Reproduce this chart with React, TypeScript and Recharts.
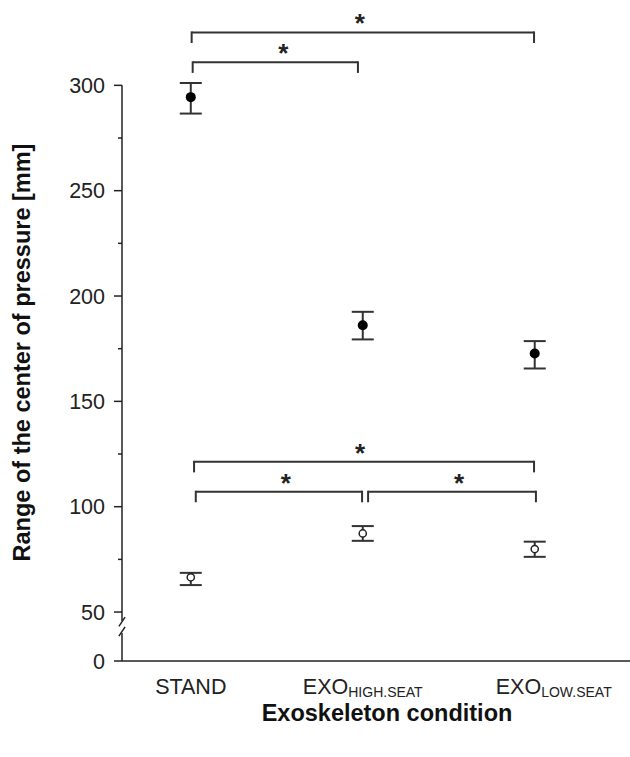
import {
  ComposedChart, Scatter, XAxis, YAxis, ErrorBar, ReferenceLine, Label,
} from 'recharts';

// conditions on the x axis
const CONDITIONS = ['STAND', 'EXO', 'EXO'];
const CONDITION_SUB = ['', 'HIGH.SEAT', 'LOW.SEAT'];
const X_POS = [1, 2, 3];

// filled markers (upper group)
const FILLED_MEAN = [294.4, 186.1, 172.7];
const FILLED_LOW = [286.6, 179.4, 165.6];
const FILLED_HIGH = [301.1, 192.5, 178.6];

// open markers (lower group)
const OPEN_MEAN = [66.5, 87.3, 79.9];
const OPEN_LOW = [62.8, 83.8, 76.2];
const OPEN_HIGH = [68.6, 90.8, 83.4];

const Y_TICKS = [0, 50, 100, 150, 200, 250, 300];
const Y_MINOR = [75, 125, 175, 225, 275];

// significance brackets
const BRACKET_FROM = [1.005, 1.011, 1.019, 1.029, 2.031];
const BRACKET_TO = [2.996, 1.972, 2.996, 1.996, 3.007];
const BRACKET_Y = [325.1, 310.9, 121.3, 107.1, 107.1];
const BRACKET_LEG = 5;

// axis break: 0..50 squeezed
const BREAK = 23.24;
const toT = (v: number) => (v >= 50 ? v - 50 + BREAK : (v * BREAK) / 50);
const fromT = (t: number) => (t >= BREAK ? Math.round(t + 50 - BREAK) : Math.round((t * 50) / BREAK));

const X_MIN = 0.6;
const X_MAX = 3.554;
const LABEL_DX = [0, 0, 19];
const STAR_DX = [-3, 8, -4, 7, 7];
const FONT = '"Liberation Sans", Arial, sans-serif';
const INK = '#333';

const makeRows = (mean: number[], low: number[], high: number[]) =>
  X_POS.map((x, i) => ({
    x,
    y: toT(mean[i]),
    err: [mean[i] - low[i], high[i] - mean[i]],
  }));

const filledRows = makeRows(FILLED_MEAN, FILLED_LOW, FILLED_HIGH);
const openRows = makeRows(OPEN_MEAN, OPEN_LOW, OPEN_HIGH);

const YTick = (props: any) => {
  const { x, y, payload } = props;
  const v = fromT(payload.value);
  const major = Y_TICKS.includes(v);
  return (
    <g>
      <line x1={x - (major ? 8 : 4)} x2={x} y1={y} y2={y} stroke="#222" strokeWidth={1.5} />
      {major && (
        <text x={x - 17} y={y} dy={7.5} textAnchor="end" fontSize={21.5} fill="#222" fontFamily={FONT}>
          {v}
        </text>
      )}
    </g>
  );
};

const XTick = (props: any) => {
  const { x, y, payload } = props;
  const i = X_POS.indexOf(payload.value);
  return (
    <text x={x + LABEL_DX[i]} y={y + 33} textAnchor="middle" fontSize={21.5} fill="#222" fontFamily={FONT}>
      {CONDITIONS[i]}
      {CONDITION_SUB[i] && (
        <tspan fontSize={14} dy={3}>{CONDITION_SUB[i]}</tspan>
      )}
    </text>
  );
};

export default function App() {
  const yTicks = [...Y_TICKS, ...Y_MINOR].sort((a, b) => a - b).map(toT);
  const lineProps = { stroke: INK, strokeWidth: 2, ifOverflow: 'visible' as const };

  return (
    <div style={{ position: 'absolute', left: 0, top: 0, background: '#fff' }}>
      <ComposedChart width={630} height={757} margin={{ top: 10, right: 0, bottom: 0, left: 0 }}>
        <XAxis
          type="number"
          dataKey="x"
          domain={[X_MIN, X_MAX]}
          ticks={X_POS}
          allowDataOverflow
          height={96}
          tickLine={false}
          tickSize={0}
          tickMargin={0}
          axisLine={{ stroke: '#222', strokeWidth: 1.5 }}
          tick={<XTick />}
        >
          <Label
            value="Exoskeleton condition"
            position="insideBottom"
            offset={36}
            dx={11}
            style={{ fontSize: 23.5, fontWeight: 'bold', fill: '#111', fontFamily: FONT }}
          />
        </XAxis>
        <YAxis
          type="number"
          dataKey="y"
          domain={[0, 309]}
          ticks={yTicks}
          interval={0}
          allowDataOverflow
          width={122}
          axisLine={false}
          tickLine={false}
          tickSize={0}
          tickMargin={0}
          tick={<YTick />}
        >
          <Label
            value="Range of the center of pressure [mm]"
            angle={-90}
            position="center"
            dx={-39}
            dy={17}
            style={{ fontSize: 23.5, fontWeight: 'bold', fill: '#111', fontFamily: FONT, textAnchor: 'middle' }}
          />
        </YAxis>

        {/* y axis line with break */}
        <ReferenceLine segment={[{ x: X_MIN, y: 0 }, { x: X_MIN, y: 13.3 }]} stroke="#222" strokeWidth={1.5} ifOverflow="visible" />
        <ReferenceLine segment={[{ x: X_MIN, y: 19 }, { x: X_MIN, y: toT(300) }]} stroke="#222" strokeWidth={1.5} ifOverflow="visible" />
        <ReferenceLine segment={[{ x: X_MIN - 0.018, y: 11.8 }, { x: X_MIN + 0.018, y: 16.2 }]} stroke="#222" strokeWidth={1.5} ifOverflow="visible" />
        <ReferenceLine segment={[{ x: X_MIN - 0.018, y: 16.4 }, { x: X_MIN + 0.018, y: 20.8 }]} stroke="#222" strokeWidth={1.5} ifOverflow="visible" />

        {/* significance brackets */}
        {BRACKET_Y.map((by, i) => (
          <ReferenceLine
            key={`b-${i}`}
            segment={[{ x: BRACKET_FROM[i], y: toT(by) }, { x: BRACKET_TO[i], y: toT(by) }]}
            {...lineProps}
            label={{ value: '*', position: 'top', offset: 0, dx: STAR_DX[i], fontSize: 26, fontWeight: 'bold', fill: '#222', fontFamily: FONT }}
          />
        ))}
        {BRACKET_Y.map((by, i) => (
          <ReferenceLine
            key={`l-${i}`}
            segment={[{ x: BRACKET_FROM[i], y: toT(by) + 0.5 }, { x: BRACKET_FROM[i], y: toT(by - BRACKET_LEG) }]}
            {...lineProps}
          />
        ))}
        {BRACKET_Y.map((by, i) => (
          <ReferenceLine
            key={`r-${i}`}
            segment={[{ x: BRACKET_TO[i], y: toT(by) + 0.5 }, { x: BRACKET_TO[i], y: toT(by - BRACKET_LEG) }]}
            {...lineProps}
          />
        ))}

        <Scatter
          data={filledRows}
          dataKey="y"
          isAnimationActive={false}
          shape={(p: any) => <circle cx={p.cx} cy={p.cy} r={5} fill="#000" />}
        >
          <ErrorBar dataKey="err" direction="y" width={11} stroke={INK} strokeWidth={2} isAnimationActive={false} />
        </Scatter>
        <Scatter
          data={openRows}
          dataKey="y"
          isAnimationActive={false}
          shape={(p: any) => <circle cx={p.cx} cy={p.cy} r={3.6} fill="#fff" stroke="#222" strokeWidth={1.5} />}
        >
          <ErrorBar dataKey="err" direction="y" width={11} stroke={INK} strokeWidth={2} isAnimationActive={false} />
        </Scatter>
      </ComposedChart>
    </div>
  );
}
